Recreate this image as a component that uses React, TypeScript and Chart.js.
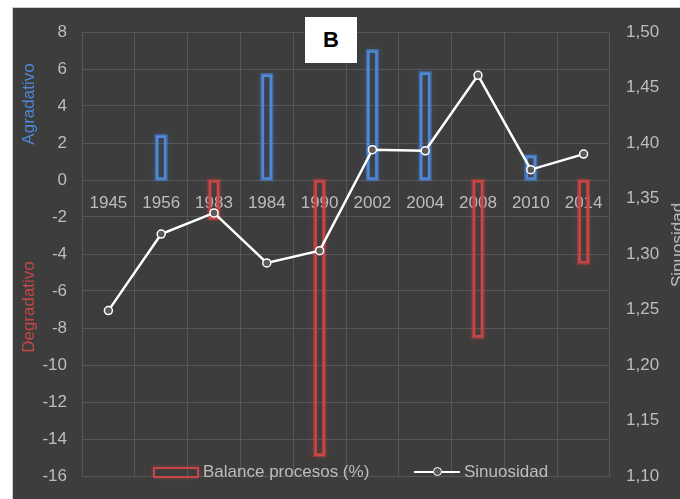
import React, { useEffect, useRef } from "react";
import { Chart, registerables } from "chart.js";

Chart.register(...registerables);

const years = ["1945", "1956", "1983", "1984", "1990", "2002", "2004", "2008", "2010", "2014"];
const balance = [0, 2.4, -2.1, 5.7, -14.9, 7.0, 5.8, -8.5, 1.3, -4.5];
const sinuosidad = [1.249, 1.318, 1.337, 1.292, 1.303, 1.394, 1.393, 1.461, 1.376, 1.39];

const leftMin = -16;
const leftMax = 8;
const leftStep = 2;
const rightMin = 1.1;
const rightMax = 1.5;
const rightStep = 0.05;

const FONT = "'Liberation Sans', Arial, sans-serif";
const TEXT = "#bdbdbd";
const BLUE = "#4f88d8";
const RED = "#c84646";

const glowPlugin = {
  id: "glow",
  beforeDatasetDraw(chart: any, args: any) {
    const meta = args.meta;
    if (meta.type !== "bar") return;
    const ds: any = chart.data.datasets[args.index];
    const ctx = chart.ctx;
    ctx.save();
    ctx.shadowColor = ds.glowColor;
    ctx.shadowBlur = 7;
    ctx.strokeStyle = ds.glowColor;
    ctx.lineWidth = 3;
    meta.data.forEach((el: any, i: number) => {
      if (ds.data[i] === null || ds.data[i] === undefined) return;
      const { x, y, base, width } = el.getProps(["x", "y", "base", "width"], true);
      if (!isFinite(y) || !isFinite(base) || Math.abs(base - y) < 0.5) return;
      ctx.strokeRect(x - width / 2, Math.min(y, base), width, Math.abs(base - y));
    });
    ctx.restore();
  },
};

export default function App() {
  const canvasRef = useRef<HTMLCanvasElement | null>(null);

  useEffect(() => {
    const canvas = canvasRef.current;
    if (!canvas) return;
    const pos = balance.map((v) => (v > 0 ? v : null));
    const neg = balance.map((v) => (v < 0 ? v : null));
    const chart = new Chart(canvas, {
      type: "bar",
      data: {
        labels: years,
        datasets: [
          {
            type: "line",
            label: "Sinuosidad",
            data: sinuosidad,
            yAxisID: "y2",
            borderColor: "#ffffff",
            borderWidth: 2.5,
            pointRadius: 4,
            pointBackgroundColor: "#5a5a5a",
            pointBorderColor: "#ffffff",
            pointBorderWidth: 1.5,
            tension: 0,
            order: 0,
          } as any,
          {
            type: "bar",
            label: "Balance procesos (%)",
            data: pos,
            yAxisID: "y",
            backgroundColor: "rgba(0,0,0,0)",
            borderColor: BLUE,
            borderWidth: 2,
            borderSkipped: false,
            barThickness: 10,
            grouped: false,
            glowColor: "rgba(79,136,216,0.55)",
            order: 1,
          } as any,
          {
            type: "bar",
            label: "Balance procesos (%) neg",
            data: neg,
            yAxisID: "y",
            backgroundColor: "rgba(0,0,0,0)",
            borderColor: RED,
            borderWidth: 2,
            borderSkipped: false,
            barThickness: 10,
            grouped: false,
            glowColor: "rgba(200,70,70,0.55)",
            order: 1,
          } as any,
        ],
      },
      options: {
        animation: false,
        responsive: false,
        maintainAspectRatio: false,
        layout: { padding: { left: 0, right: 0, top: 32, bottom: 23 } },
        plugins: {
          legend: { display: false },
          tooltip: { enabled: false },
          title: { display: false },
        },
        scales: {
          x: {
            position: { y: 0 } as any,
            offset: true,
            grid: { display: true, offset: true, color: "#575757", lineWidth: 1, drawTicks: false },
            border: { display: false },
            ticks: {
              color: TEXT,
              font: { family: FONT, size: 17 },
              padding: 13,
              maxRotation: 0,
              autoSkip: false,
            },
          },
          y: {
            position: "left",
            min: leftMin,
            max: leftMax,
            grid: { color: "#575757", lineWidth: 1, drawTicks: false },
            border: { display: false },
            ticks: {
              stepSize: leftStep,
              color: TEXT,
              font: { family: FONT, size: 17 },
              padding: 15,
            },
            afterFit: (scale: any) => {
              scale.width = 82;
              scale.paddingTop = 0;
              scale.paddingBottom = 0;
            },
          },
          y2: {
            position: "right",
            min: rightMin,
            max: rightMax,
            grid: { display: false, drawTicks: false },
            border: { display: false },
            ticks: {
              stepSize: rightStep,
              color: TEXT,
              font: { family: FONT, size: 17 },
              padding: 16,
              callback: (v: any) => Number(v).toFixed(2).replace(".", ","),
            },
            afterFit: (scale: any) => {
              scale.width = 70;
              scale.paddingTop = 0;
              scale.paddingBottom = 0;
            },
          },
        },
      } as any,
      plugins: [glowPlugin as any],
    });
    return () => chart.destroy();
  }, []);

  const rot = (cx: number, cy: number, color: string, text: string) => (
    <div
      style={{
        position: "absolute",
        left: cx,
        top: cy,
        transform: "translate(-50%, -50%) rotate(-90deg)",
        color,
        fontFamily: FONT,
        fontSize: 17,
        whiteSpace: "nowrap",
        lineHeight: "20px",
      }}
    >
      {text}
    </div>
  );

  return (
    <div
      style={{
        position: "absolute",
        left: 0,
        top: 0,
        width: 680,
        height: 499,
        overflow: "hidden",
        background: "#ffffff",
      }}
    >
      <div
        style={{
          position: "absolute",
          left: 12,
          top: 7,
          right: 0,
          bottom: 0,
          background: "#3d3d3d",
          borderTop: "1px solid #cfcfcf",
          borderLeft: "1px solid #cfcfcf",
        }}
      />
      <canvas ref={canvasRef} width={680} height={499} style={{ position: "absolute", left: 0, top: 0 }} />
      {rot(29, 104, BLUE, "Agradativo")}
      {rot(29, 307, RED, "Degradativo")}
      {rot(678, 245, TEXT, "Sinuosidad")}
      <div
        style={{
          position: "absolute",
          left: 305,
          top: 17,
          width: 52,
          height: 46,
          background: "#ffffff",
          color: "#000000",
          fontFamily: FONT,
          fontWeight: "bold",
          fontSize: 22,
          display: "flex",
          alignItems: "center",
          justifyContent: "center",
        }}
      >
        B
      </div>
      <div
        style={{
          position: "absolute",
          left: 153,
          top: 467,
          width: 42,
          height: 7,
          border: `2px solid ${RED}`,
          boxShadow: "0 0 4px rgba(200,70,70,0.5)",
        }}
      />
      <div
        style={{
          position: "absolute",
          left: 203,
          top: 461,
          color: TEXT,
          fontFamily: FONT,
          fontSize: 17,
          lineHeight: "22px",
          whiteSpace: "nowrap",
        }}
      >
        Balance procesos (%)
      </div>
      <div
        style={{
          position: "absolute",
          left: 414,
          top: 471,
          width: 46,
          height: 2,
          background: "#ffffff",
        }}
      />
      <div
        style={{
          position: "absolute",
          left: 433,
          top: 467,
          width: 7,
          height: 7,
          borderRadius: "50%",
          border: "1.5px solid #ffffff",
          background: "#5a5a5a",
        }}
      />
      <div
        style={{
          position: "absolute",
          left: 464,
          top: 461,
          color: TEXT,
          fontFamily: FONT,
          fontSize: 17,
          lineHeight: "22px",
          whiteSpace: "nowrap",
        }}
      >
        Sinuosidad
      </div>
    </div>
  );
}
